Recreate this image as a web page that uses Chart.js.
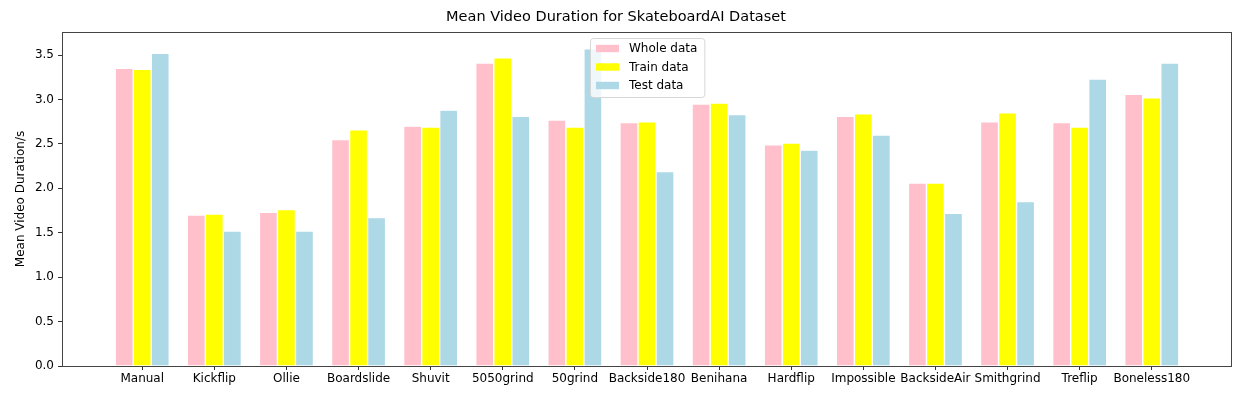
<!DOCTYPE html>
<html>
<head>
<meta charset="utf-8">
<script src="https://cdn.jsdelivr.net/npm/chart.js@4/dist/chart.umd.min.js"></script>
<style>
  html, body { margin: 0; padding: 0; background: #fff; }
  #wrap { width: 1248px; height: 395px; }
</style>
</head>
<body>
<div id="wrap"><canvas id="myChart" width="1248" height="395"></canvas></div>
<script>
const categories = ["Manual", "Kickflip", "Ollie", "Boardslide", "Shuvit", "5050grind", "50grind",
    "Backside180", "Benihana", "Hardflip", "Impossible", "BacksideAir", "Smithgrind", "Treflip", "Boneless180"];
const wholeData = [3.35, 1.70, 1.73, 2.55, 2.70, 3.41, 2.77, 2.74, 2.95, 2.49, 2.81, 2.06, 2.75, 2.74, 3.06];
const trainData = [3.34, 1.71, 1.76, 2.66, 2.69, 3.47, 2.69, 2.75, 2.96, 2.51, 2.84, 2.06, 2.85, 2.69, 3.02];
const testData  = [3.52, 1.52, 1.52, 1.67, 2.88, 2.81, 3.57, 2.19, 2.83, 2.43, 2.60, 1.72, 1.85, 3.23, 3.41];
const yTicks = [0, 0.5, 1, 1.5, 2, 2.5, 3, 3.5];

const FONT = "'DejaVu Sans', sans-serif";

// points on a numeric x axis so the side margins can match the original
const toPoints = arr => arr.map((v, i) => ({ x: i, y: v }));

// frame around the plot area + legend inside it (upper center)
const framePlugin = {
    id: "frame",
    afterDraw(chart) {
        const ctx = chart.ctx;
        const a = chart.chartArea;
        ctx.save();
        ctx.strokeStyle = "#444";
        ctx.lineWidth = 1;
        ctx.strokeRect(Math.round(a.left) + 0.5, Math.round(a.top) + 0.5,
            Math.round(a.right - a.left) - 1, Math.round(a.bottom - a.top));

        // legend
        ctx.font = "12px " + FONT;
        const sets = chart.data.datasets;
        const textW = Math.max(...sets.map(d => ctx.measureText(d.label).width));
        const w = 6 + 23 + 10 + textW + 7;
        const h = 59;
        const x0 = Math.round((a.left + a.right) / 2 - w / 2);
        const y0 = a.top + 6;
        ctx.beginPath();
        ctx.roundRect(x0 + 0.5, y0 + 0.5, w, h, 3);
        ctx.fillStyle = "rgba(255,255,255,0.8)";
        ctx.fill();
        ctx.strokeStyle = "#d6d6d6";
        ctx.stroke();
        sets.forEach((d, i) => {
            const cy = y0 + 10.5 + i * 18.5;
            ctx.fillStyle = d.backgroundColor;
            ctx.fillRect(x0 + 6, cy - 3.7, 23, 7.4);
            ctx.fillStyle = "#000";
            ctx.textBaseline = "middle";
            ctx.textAlign = "left";
            ctx.fillText(d.label, x0 + 39, cy + 0.5);
        });
        ctx.restore();
    }
};

const ctx = document.getElementById("myChart").getContext("2d");

const chart = new Chart(ctx, {
    type: "bar",
    data: {
        datasets: [
            { label: "Whole data", data: toPoints(wholeData), backgroundColor: "#ffc0cb" },
            { label: "Train data", data: toPoints(trainData), backgroundColor: "#ffff00" },
            { label: "Test data", data: toPoints(testData), backgroundColor: "#add8e6" }
        ]
    },
    options: {
        responsive: false,
        animation: false,
        events: [],
        layout: { padding: { left: 0, right: 16, top: 0, bottom: 0 } },
        datasets: {
            bar: {
                categoryPercentage: 0.75,
                barPercentage: 1,
                borderColor: "#ffffff",
                borderWidth: 0.7,
                borderSkipped: "bottom"
            }
        },
        plugins: {
            legend: { display: false },
            tooltip: { enabled: false },
            title: {
                display: true,
                text: "Mean Video Duration for SkateboardAI Dataset",
                color: "#000",
                font: { family: FONT, size: 14.5, weight: "normal" },
                padding: { top: 9, bottom: 5.6 }
            }
        },
        scales: {
            x: {
                type: "linear",
                min: -1.1125,
                max: 15.1125,
                offset: false,
                afterBuildTicks: axis => { axis.ticks = categories.map((_, i) => ({ value: i })); },
                afterFit: axis => { axis.height = 29; },
                ticks: {
                    autoSkip: false,
                    maxRotation: 0,
                    padding: 2,
                    color: "#000",
                    font: { family: FONT, size: 12 },
                    callback: v => categories[v]
                },
                grid: { offset: false, drawOnChartArea: false, drawTicks: true, tickLength: 4, color: "#333" },
                border: { display: false }
            },
            y: {
                min: 0,
                max: 3.76,
                afterBuildTicks: axis => { axis.ticks = yTicks.map(v => ({ value: v })); },
                afterFit: axis => { axis.width = 62; },
                ticks: {
                    padding: 4,
                    color: "#000",
                    font: { family: FONT, size: 12 },
                    callback: v => v.toFixed(1)
                },
                grid: { drawOnChartArea: false, drawTicks: true, tickLength: 4, color: "#333" },
                border: { display: false },
                title: {
                    display: true,
                    text: "Mean Video Duration/s",
                    color: "#000",
                    font: { family: FONT, size: 12 },
                    padding: { top: 14, bottom: 0 }
                }
            }
        }
    },
    plugins: [framePlugin]
});
</script>
</body>
</html>
